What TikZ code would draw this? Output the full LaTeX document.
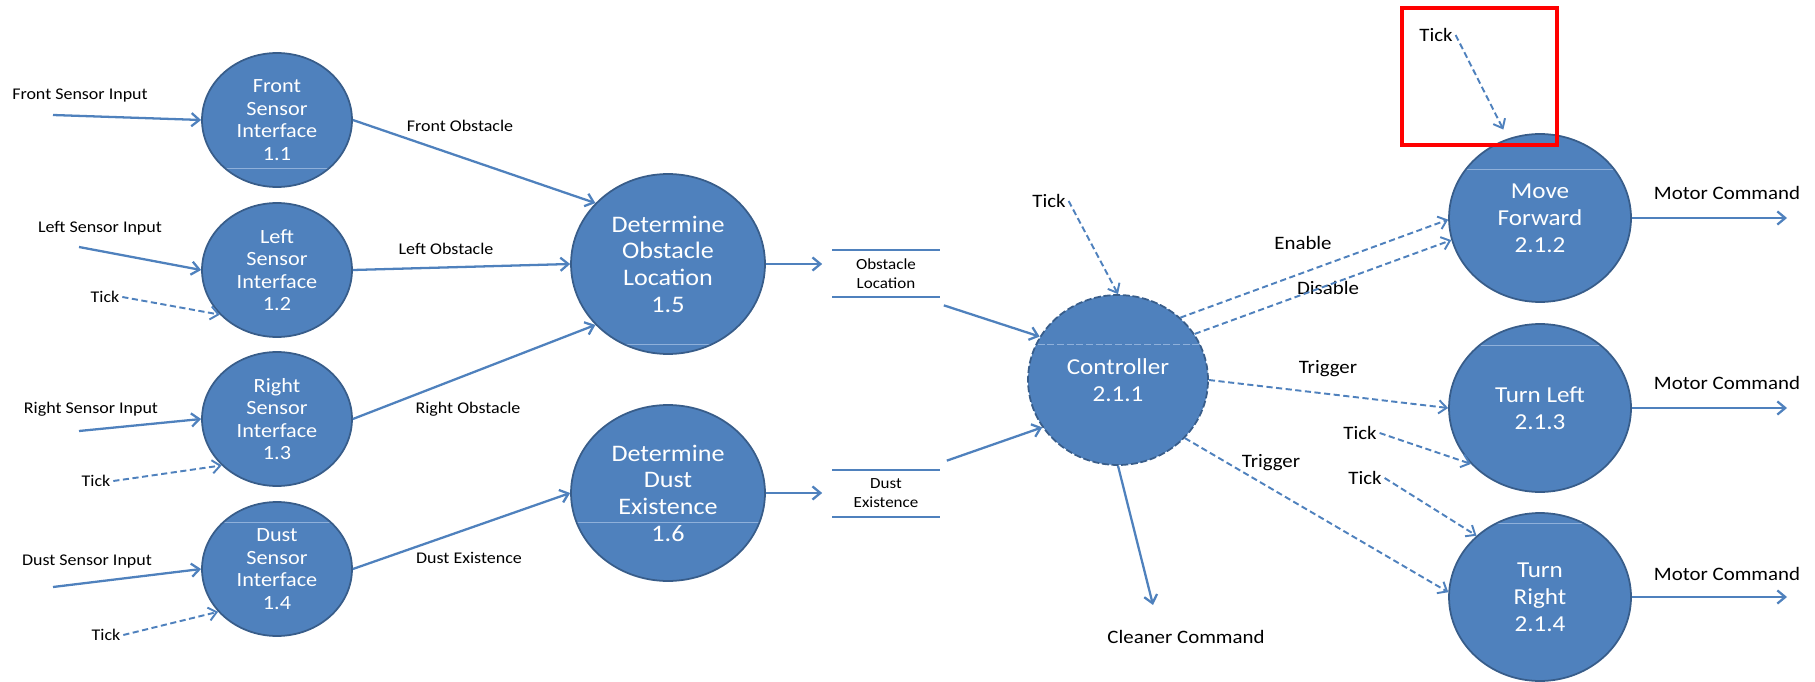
\documentclass[tikz,border=0pt]{standalone}
\usepackage{fontspec}
\setmainfont[FakeStretch=1.1]{Carlito}
\usepackage{xcolor}
\usepackage{tikz}
\usetikzlibrary{arrows.meta}
\usetikzlibrary{shapes.geometric, calc}

\definecolor{bulle}{HTML}{4F81BD}
\definecolor{bord}{HTML}{385D8A}
\definecolor{trait}{HTML}{4F81BD}
\definecolor{lueur}{HTML}{8FB0DA}

\tikzset{
  proc/.style={ellipse, draw=bord, line width=1pt, fill=bulle, text=white, inner sep=0pt, align=center},
  petit/.style={proc, minimum width=3cm, minimum height=2.68cm, font=\fontsize{11.5}{12.8}\selectfont},
  grand/.style={proc, minimum width=3.88cm, minimum height=3.6cm, font=\fontsize{13.5}{15.2}\selectfont},
  moteur/.style={proc, minimum width=3.64cm, minimum height=3.36cm, font=\fontsize{13}{15.3}\selectfont},
  reflet/.style={path picture={\draw[lueur, line width=0.5pt] ([yshift=-#1*0.02cm]path picture bounding box.west) -- ([yshift=-#1*0.02cm]path picture bounding box.east);}},
  lab/.style={font=\fontsize{9.3}{11}\selectfont, inner sep=1.5pt},
  labr/.style={font=\fontsize{10.8}{12}\selectfont, inner sep=1.5pt},
  depot/.style={font=\fontsize{8.8}{10.8}\selectfont, minimum width=2.14cm, minimum height=0.94cm, align=center, inner sep=0pt},
  flux/.style={draw=trait, line width=1.3pt, -{Straight Barb[length=4.5pt,width=7.5pt]}},
  signal/.style={flux, line width=1.1pt, dash pattern=on 3.5pt off 2pt},
}

\begin{document}
\begin{tikzpicture}[x=0.02cm, y=-0.02cm]
        \useasboundingbox (0,0) rectangle (1815,682);

        % Interfaces des capteurs
        \node[petit, reflet=48] (sensfront) at (277,120) {Front\\Sensor\\Interface\\1.1};
        \node[petit] (sensleft) at (277,270) {Left\\Sensor\\Interface\\1.2};
        \node[petit] (sensright) at (277,419) {Right\\Sensor\\Interface\\1.3};
        \node[petit, reflet=-47] (sensdust) at (277,569) {Dust\\Sensor\\Interface\\1.4};

        % Processus de détermination
        \node[grand, reflet=80] (detobs) at (668,264) {Determine\\Obstacle\\Location\\1.5};
        \node[grand, reflet=29, minimum height=3.52cm] (detdust) at (668,493) {Determine\\Dust\\Existence\\1.6};

        % Dépôts de données
        \node[depot] (obsstore) at (886,273.5) {Obstacle\\Location};
        \node[depot] (duststore) at (886,493.5) {Dust\\Existence};
        \draw[trait, line width=1.2pt] (obsstore.north west) -- (obsstore.north east) (obsstore.south west) -- (obsstore.south east);
        \draw[trait, line width=1.2pt] (duststore.north west) -- (duststore.north east) (duststore.south west) -- (duststore.south east);

        % Contrôleur et moteurs
        \node[moteur, reflet=-36, dash pattern=on 4pt off 1.5pt, minimum width=3.6cm, minimum height=3.4cm] (ctrl) at (1118,380) {Controller\\2.1.1};
        \node[moteur, reflet=-49] (mf) at (1540,218) {Move\\Forward\\2.1.2};
        \node[moteur, reflet=-63] (tl) at (1540,408) {Turn Left\\2.1.3};
        \node[moteur, reflet=-74] (tr) at (1540,597) {Turn\\Right\\2.1.4};

        % Entrées des capteurs
        \node[lab] (infront) at (80,96) {Front Sensor Input};
        \node[lab] (inleft) at (100,228) {Left Sensor Input};
        \node[lab] (inright) at (91,409) {Right Sensor Input};
        \node[lab] (indust) at (87,562) {Dust Sensor Input};
        \coordinate (a1) at (53,115);
        \coordinate (a2) at (79,247);
        \coordinate (a3) at (79,431);
        \coordinate (a4) at (53,587);
        \draw[flux] (a1) -- (sensfront.west);
        \draw[flux] (a2) -- (sensleft.west);
        \draw[flux] (a3) -- (sensright.west);
        \draw[flux] (a4) -- (sensdust.west);

        % Ticks à gauche
        \node[lab] (tick1) at (105,297) {Tick};
        \node[lab] (tick2) at (96,481) {Tick};
        \node[lab] (tick3) at (106,635) {Tick};
        \draw[signal] (tick1.east) -- (sensleft.218);
        \draw[signal] (tick2.east) -- (sensright.220);
        \draw[signal] (tick3.east) -- (sensdust.216);

        % Flux vers la détermination
        \node[lab] (lfront) at (460,126) {Front Obstacle};
        \node[lab] (lleft) at (446,249) {Left Obstacle};
        \node[lab] (lright) at (468,409) {Right Obstacle};
        \node[lab] (ldust) at (469,558) {Dust Existence};
        \draw[flux] (sensfront.east) -- (detobs.140);
        \draw[flux] (sensleft.east) -- (detobs.west);
        \draw[flux] (sensright.east) -- (detobs.220);
        \draw[flux] (sensdust.east) -- (detdust.west);

        % Vers les dépôts puis le contrôleur
        \draw[flux, shorten >=5.7pt] (detobs.east) -- (detobs.east -| obsstore.west);
        \draw[flux, shorten >=5.7pt] (detdust.east) -- (detdust.east -| duststore.west);
        \draw[flux] ($(obsstore.south east)+(4,8)$) -- (ctrl.151);
        \draw[flux] ($(duststore.north east)+(7,-9)$) -- (ctrl.212);

        % Signaux du contrôleur
        \node[labr] (tickc) at (1049,201) {Tick};
        \draw[signal] (tickc.east) -- (ctrl.north);
        \node[labr] (lenable) at (1303,243) {Enable};
        \node[labr] (ldisable) at (1328,288) {Disable};
        \node[labr] (ltrig1) at (1328,369) {Trigger};
        \node[labr] (ltrig2) at (1271,463) {Trigger};
        \draw[signal] (ctrl.45) -- (mf.181);
        \draw[signal] (ctrl.31) -- (mf.194);
        \draw[signal] (ctrl.east) -- (tl.west);
        \draw[signal] (ctrl.-41) -- (tr.177);

        % Commande du nettoyeur
        \coordinate (cleanend) at (1153,605);
        \draw[flux] (ctrl.south) -- (cleanend);
        \node[labr] (cleaner) at (1186,637) {Cleaner Command};

        % Ticks des moteurs
        \node[labr] (ticktl) at (1360,433) {Tick};
        \node[labr] (ticktr) at (1365,478) {Tick};
        \node[labr] (tickmf) at (1436,35) {Tick};
        \draw[signal] (ticktl.east) -- (tl.219);
        \draw[signal] (ticktr.east) -- (tr.136);
        \draw[signal, shorten >=5.7pt] (tickmf.east) -- (mf.112);

        % Commandes moteur
        \coordinate (m1) at (1787,218);
        \coordinate (m2) at (1787,408);
        \coordinate (m3) at (1787,597);
        \draw[flux] (mf.east) -- (m1);
        \draw[flux] (tl.east) -- (m2);
        \draw[flux] (tr.east) -- (m3);
        \node[labr] (mc1) at (1727,193) {Motor Command};
        \node[labr] (mc2) at (1727,383) {Motor Command};
        \node[labr] (mc3) at (1727,574) {Motor Command};

        % Cadre rouge
        \draw[red, line width=2.8pt] (1402,8) rectangle (1557,145);
\end{tikzpicture}
\end{document}
